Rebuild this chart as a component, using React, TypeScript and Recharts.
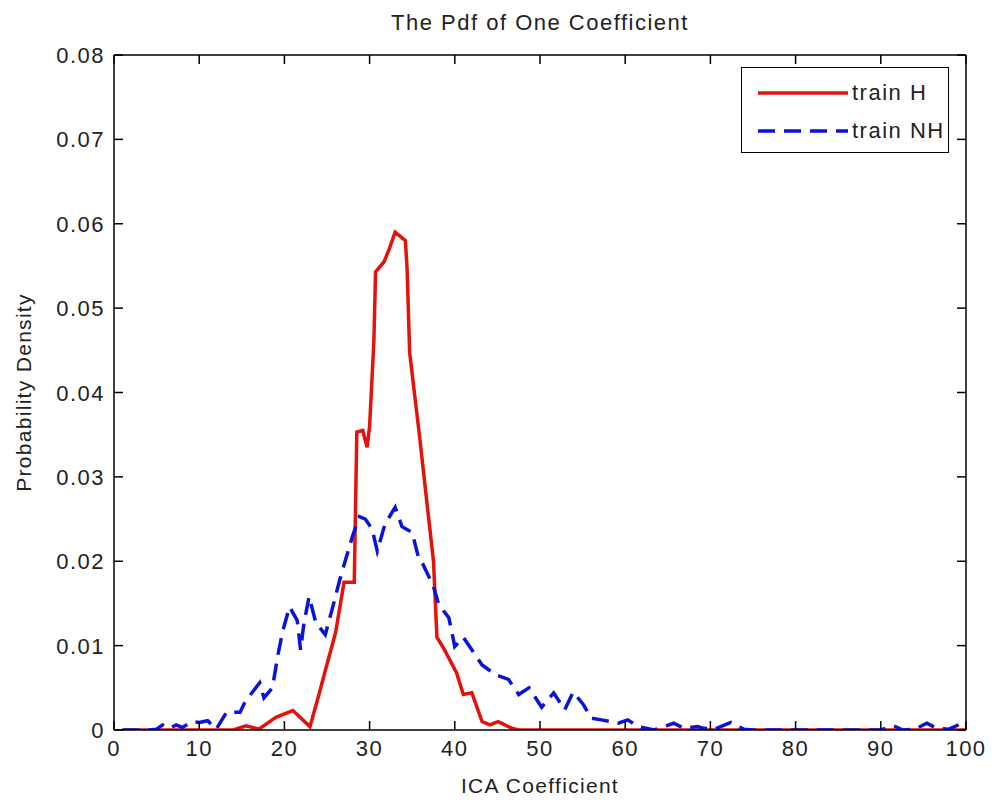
import { LineChart, Line, XAxis, YAxis, Legend } from "recharts"

// train H (solid red)
const hX = [1, 5, 10, 14, 15.5, 17, 19, 21, 23, 24, 25, 26, 27, 28.2, 28.5, 29.2, 29.7, 30, 30.5, 30.7, 31.7, 32.3, 33, 34.2, 34.4, 34.7, 35.3, 35.9, 36.5, 37.5, 37.9, 38.8, 40.2, 41, 42, 43.2, 44.1, 45.1, 46.7, 47.5, 60, 80, 100]
const hY = [0, 0, 0, 0, 0.0005, 0.0001, 0.0015, 0.0023, 0.0004, 0.004, 0.0078, 0.0115, 0.0175, 0.0175, 0.0353, 0.0355, 0.0335, 0.036, 0.046, 0.0543, 0.0555, 0.057, 0.059, 0.058, 0.0547, 0.0448, 0.0396, 0.0345, 0.029, 0.02, 0.011, 0.0095, 0.0068, 0.0042, 0.0044, 0.001, 0.0006, 0.001, 0.0002, 0, 0, 0, 0]

// train NH (dashed blue)
const nhX = [1, 4, 5, 5.7, 6.5, 7.3, 8, 9.2, 10, 11, 12, 13.2, 14.8, 15.4, 17.1, 17.6, 18.6, 19.2, 19.8, 20.6, 21.5, 21.9, 22.3, 22.9, 23.7, 24.8, 25.6, 26.5, 27.1, 28, 28.8, 29.5, 30.3, 30.9, 31.8, 33, 33.8, 35, 35.8, 36.1, 37.5, 38.1, 39.3, 40, 41, 42.2, 43.2, 44.9, 46.3, 47.5, 48.7, 50.2, 51.6, 52.9, 53.9, 55.1, 56, 57.2, 59.2, 60.3, 61.5, 63.4, 65.7, 66.9, 68.5, 69.2, 70.5, 72.4, 73.9, 75, 90, 91.5, 92.6, 94, 95.4, 96.6, 98, 99.3, 100]
const nhY = [0, 0, 0.0001, 0.0006, 0.0002, 0.0006, 0.0003, 0.001, 0.0009, 0.0011, 0.0001, 0.0021, 0.0021, 0.0034, 0.0056, 0.0038, 0.005, 0.0087, 0.0117, 0.0146, 0.013, 0.0095, 0.0127, 0.0158, 0.0127, 0.0113, 0.0143, 0.0178, 0.0199, 0.023, 0.0253, 0.025, 0.0238, 0.0212, 0.0244, 0.0264, 0.0241, 0.0234, 0.0202, 0.02, 0.017, 0.0149, 0.0133, 0.0099, 0.011, 0.0092, 0.0077, 0.0065, 0.006, 0.0042, 0.005, 0.0027, 0.0044, 0.0024, 0.0045, 0.003, 0.0014, 0.0012, 0.0008, 0.0012, 0.0004, 0, 0.0008, 0.0002, 0.0004, 0.0002, 0.0001, 0.0009, 0.0001, 0, 0, 0.0005, 0, 0.0001, 0.0008, 0.0002, 0.0001, 0.0007, 0.0009]

const xTicks = [0, 10, 20, 30, 40, 50, 60, 70, 80, 90, 100]
const yTicks = [0, 0.01, 0.02, 0.03, 0.04, 0.05, 0.06, 0.07, 0.08]

const trainH = hX.map((x, i) => ({ x, y: hY[i] }))
const trainNH = nhX.map((x, i) => ({ x, y: nhY[i] }))

const FONT = '"Liberation Sans", Arial, sans-serif'
const TICK_LEN = 9

const fmtY = (v: number) => (v === 0 ? "0" : v.toFixed(2))

function BottomTick(props: any) {
    const { x, y, payload } = props
    return (
        <g>
            <line x1={x} y1={y} x2={x} y2={y - TICK_LEN} stroke="#000" strokeWidth={1.5} />
            <text x={x} y={y + 26} textAnchor="middle" fontFamily={FONT} fontSize={22} letterSpacing={1.5} fill="#222">
                {payload.value}
            </text>
        </g>
    )
}

function TopTick(props: any) {
    const { x, y } = props
    return <line x1={x} y1={y} x2={x} y2={y + TICK_LEN} stroke="#000" strokeWidth={1.5} />
}

function LeftTick(props: any) {
    const { x, y, payload } = props
    return (
        <g>
            <line x1={x} y1={y} x2={x + TICK_LEN} y2={y} stroke="#000" strokeWidth={1.5} />
            <text x={x - 9} y={y + 8} textAnchor="end" fontFamily={FONT} fontSize={22} letterSpacing={1.5} fill="#222">
                {fmtY(payload.value)}
            </text>
        </g>
    )
}

function RightTick(props: any) {
    const { x, y } = props
    return <line x1={x} y1={y} x2={x - TICK_LEN} y2={y} stroke="#000" strokeWidth={1.5} />
}

function YTitle(props: any) {
    const vb = props.viewBox
    const cx = vb.x + 25
    const cy = vb.y + vb.height / 2
    return (
        <text x={cx} y={cy} transform={`rotate(-90 ${cx} ${cy})`} textAnchor="middle" dominantBaseline="middle" fontFamily={FONT} fontSize={21} letterSpacing={1.3} fill="#222">
            Probability Density
        </text>
    )
}

function LegendBox(props: any) {
    const items = (props.payload || []).filter((it: any) => it.type !== "none")
    return (
        <div style={{ width: 208, height: 86, boxSizing: "border-box", border: "1.5px solid #000", background: "#fff", fontFamily: FONT, fontSize: 22, letterSpacing: 1.5, color: "#222", paddingTop: 6 }}>
            {items.map((it: any) => (
                <div key={it.value} style={{ display: "flex", alignItems: "center", height: 38 }}>
                    <svg width={100} height={10} style={{ marginLeft: 10 }}>
                        <line x1={6} y1={5} x2={96} y2={5} stroke={it.color} strokeWidth={3.5} strokeDasharray={it.payload?.strokeDasharray} />
                    </svg>
                    <span>{it.value}</span>
                </div>
            ))}
        </div>
    )
}

export default function App() {
    return (
        <div style={{ position: "absolute", left: 0, top: 0, width: 992, height: 801, background: "#fff" }}>
            <div style={{ position: "absolute", top: 10, left: 114, width: 852, textAlign: "center", fontFamily: FONT, fontSize: 22, letterSpacing: 1.5, color: "#222" }}>
                The Pdf of One Coefficient
            </div>
            <LineChart width={992} height={801} margin={{ top: 54, right: 25, bottom: 0, left: 0 }}>
                <XAxis
                    dataKey="x"
                    type="number"
                    domain={[0, 100]}
                    ticks={xTicks}
                    height={71}
                    tickSize={0}
                    tickMargin={0}
                    tickLine={false}
                    tick={BottomTick}
                    axisLine={{ stroke: "#000", strokeWidth: 1.5 }}
                    allowDataOverflow
                    label={{ value: "ICA Coefficient", position: "insideBottom", offset: 8, fontFamily: FONT, fontSize: 21, letterSpacing: 1.3, fill: "#222" }}
                />
                <XAxis
                    xAxisId="top"
                    dataKey="x"
                    orientation="top"
                    type="number"
                    domain={[0, 100]}
                    ticks={xTicks}
                    height={1}
                    tickSize={0}
                    tickMargin={0}
                    tickLine={false}
                    tick={TopTick}
                    axisLine={{ stroke: "#000", strokeWidth: 1.5 }}
                    allowDataOverflow
                />
                <YAxis
                    type="number"
                    domain={[0, 0.08]}
                    ticks={yTicks}
                    width={114}
                    tickSize={0}
                    tickMargin={0}
                    tickLine={false}
                    tick={LeftTick}
                    axisLine={{ stroke: "#000", strokeWidth: 1.5 }}
                    allowDataOverflow
                    label={{ content: YTitle }}
                />
                <YAxis
                    yAxisId="right"
                    orientation="right"
                    type="number"
                    domain={[0, 0.08]}
                    ticks={yTicks}
                    width={1}
                    tickSize={0}
                    tickMargin={0}
                    tickLine={false}
                    tick={RightTick}
                    axisLine={{ stroke: "#000", strokeWidth: 1.5 }}
                    allowDataOverflow
                />
                <Legend
                    layout="horizontal"
                    verticalAlign="middle"
                    align="center"
                    content={LegendBox}
                    wrapperStyle={{ top: 67, left: 741, width: 208, height: 86 }}
                />
                {/* invisible series so the top/right box axes get drawn */}
                <Line
                    data={trainH}
                    dataKey="y"
                    xAxisId="top"
                    yAxisId="right"
                    stroke="none"
                    legendType="none"
                    dot={false}
                    activeDot={false}
                    isAnimationActive={false}
                />
                <Line
                    data={trainH}
                    dataKey="y"
                    name="train H"
                    type="linear"
                    stroke="#e3120b"
                    strokeWidth={3.5}
                    dot={false}
                    activeDot={false}
                    isAnimationActive={false}
                />
                <Line
                    data={trainNH}
                    dataKey="y"
                    name="train NH"
                    type="linear"
                    stroke="#0a14d8"
                    strokeWidth={3.5}
                    strokeDasharray="17 9"
                    dot={false}
                    activeDot={false}
                    isAnimationActive={false}
                />
            </LineChart>
        </div>
    )
}
